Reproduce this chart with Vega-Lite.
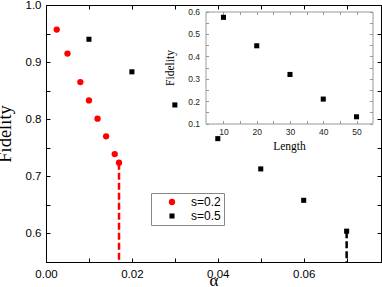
{
  "$schema": "https://vega.github.io/schema/vega-lite/v6.json",
  "width": 335,
  "height": 257,
  "autosize": "none",
  "padding": {"left": 46, "top": 5, "right": 1, "bottom": 25},
  "background": "white",
  "config": {
    "view": {"stroke": null},
    "axis": {
      "grid": false,
      "labelFont": "Liberation Sans",
      "labelFontSize": 11.5,
      "labelColor": "#000",
      "labelFlush": false,
      "labelOverlap": false,
      "titleFont": "Liberation Serif",
      "titleFontWeight": "normal",
      "titleColor": "#000",
      "domainColor": "#000",
      "tickColor": "#000",
      "tickSize": -4,
      "labelPadding": 10
    },
    "legend": {"labelFont": "Liberation Sans", "labelFontSize": 12, "labelColor": "#000"}
  },
  "datasets": {
    "main": [
      {"alpha": 0.0025, "F": 0.957, "s": "s=0.2"},
      {"alpha": 0.005, "F": 0.915, "s": "s=0.2"},
      {"alpha": 0.008, "F": 0.865, "s": "s=0.2"},
      {"alpha": 0.010, "F": 0.833, "s": "s=0.2"},
      {"alpha": 0.012, "F": 0.801, "s": "s=0.2"},
      {"alpha": 0.014, "F": 0.770, "s": "s=0.2"},
      {"alpha": 0.016, "F": 0.739, "s": "s=0.2"},
      {"alpha": 0.017, "F": 0.724, "s": "s=0.2"},
      {"alpha": 0.01, "F": 0.940, "s": "s=0.5"},
      {"alpha": 0.02, "F": 0.883, "s": "s=0.5"},
      {"alpha": 0.03, "F": 0.825, "s": "s=0.5"},
      {"alpha": 0.04, "F": 0.766, "s": "s=0.5"},
      {"alpha": 0.05, "F": 0.713, "s": "s=0.5"},
      {"alpha": 0.06, "F": 0.658, "s": "s=0.5"},
      {"alpha": 0.07, "F": 0.604, "s": "s=0.5"}
    ],
    "lines": [
      {"alpha": 0.017, "top": 0.724, "bottom": 0.55, "s": "s=0.2"},
      {"alpha": 0.07, "top": 0.604, "bottom": 0.55, "s": "s=0.5"}
    ],
    "inset": [
      {"Length": 10, "F": 0.574},
      {"Length": 20, "F": 0.447},
      {"Length": 30, "F": 0.319},
      {"Length": 40, "F": 0.209},
      {"Length": 50, "F": 0.130}
    ]
  },
  "layer": [
    {
      "layer": [
        {
          "data": {"name": "main"},
          "mark": {"type": "point", "filled": true, "opacity": 1, "size": 40},
          "encoding": {
            "x": {
              "field": "alpha", "type": "quantitative",
              "scale": {"domain": [0, 0.078], "nice": false, "zero": false},
              "axis": {
                "orient": "bottom", "title": "α", "titleFontSize": 17, "titlePadding": -7,
                "labelOverlap": false, "labelFlush": false, "tickCount": 30,
                "values": [0, 0.01, 0.02, 0.03, 0.04, 0.05, 0.06, 0.07],
                "labelExpr": "abs(datum.value*50 - round(datum.value*50)) < 0.001 ? format(datum.value, '.2f') : ''"
              }
            },
            "y": {
              "field": "F", "type": "quantitative",
              "scale": {"domain": [0.55, 1.0], "nice": false, "zero": false},
              "axis": {
                "orient": "left", "title": "Fidelity", "titleFontSize": 18.5, "titlePadding": 11,
                "labelPadding": 9, "labelOverlap": false, "labelFlush": false, "tickCount": 30,
                "values": [0.55, 0.6, 0.65, 0.7, 0.75, 0.8, 0.85, 0.9, 0.95, 1.0],
                "labelExpr": "datum.value < 0.57 ? '' : (abs(datum.value*10 - round(datum.value*10)) < 0.001 ? format(datum.value, '.1f') : '')"
              }
            },
            "color": {
              "field": "s", "type": "nominal",
              "scale": {"domain": ["s=0.2", "s=0.5"], "range": ["#ff0000", "#000000"]},
              "legend": {
                "title": null, "orient": "none", "legendX": 105, "legendY": 188,
                "strokeColor": "#888", "padding": 3, "symbolSize": 40,
                "symbolOffset": 12, "labelOffset": 13, "rowPadding": 2
              }
            },
            "shape": {
              "field": "s", "type": "nominal",
              "scale": {"domain": ["s=0.2", "s=0.5"], "range": ["circle", "M-0.8,-0.8H0.8V0.8H-0.8Z"]},
              "legend": {
                "title": null, "orient": "none", "legendX": 105, "legendY": 188,
                "strokeColor": "#888", "padding": 3, "symbolSize": 40,
                "symbolOffset": 12, "labelOffset": 13, "rowPadding": 2
              }
            }
          }
        },
        {
          "data": {"name": "lines"},
          "transform": [{"filter": "datum.s == 's=0.2'"}],
          "mark": {"type": "rule", "color": "#ff0000", "strokeWidth": 2.5, "strokeDash": [7, 3]},
          "encoding": {
            "x": {"field": "alpha", "type": "quantitative"},
            "y": {"field": "top", "type": "quantitative"},
            "y2": {"field": "bottom"}
          }
        },
        {
          "data": {"name": "lines"},
          "transform": [{"filter": "datum.s == 's=0.5'"}],
          "mark": {"type": "rule", "color": "#000000", "strokeWidth": 2.5, "strokeDash": [7, 3]},
          "encoding": {
            "x": {"field": "alpha", "type": "quantitative"},
            "y": {"field": "top", "type": "quantitative"},
            "y2": {"field": "bottom"}
          }
        }
      ]
    },
    {
      "data": {"name": "main"},
      "mark": {"type": "point", "opacity": 0},
      "encoding": {
        "x": {
          "field": "alpha", "type": "quantitative",
          "scale": {"domain": [0, 0.078], "nice": false, "zero": false},
          "axis": {"orient": "top", "title": null, "labels": false, "tickCount": 30, "values": [0, 0.01, 0.02, 0.03, 0.04, 0.05, 0.06, 0.07]}
        },
        "y": {
          "field": "F", "type": "quantitative",
          "scale": {"domain": [0.55, 1.0], "nice": false, "zero": false},
          "axis": {"orient": "right", "title": null, "labels": false, "tickCount": 30, "values": [0.55, 0.6, 0.65, 0.7, 0.75, 0.8, 0.85, 0.9, 0.95, 1.0]}
        }
      }
    },
    {
      "data": {"name": "inset"},
      "mark": {"type": "point", "filled": true, "opacity": 1, "size": 40, "shape": "M-0.8,-0.8H0.8V0.8H-0.8Z", "color": "#000"},
      "encoding": {
        "x": {
          "field": "Length", "type": "quantitative",
          "scale": {"domain": [4.6, 54.8], "range": [159.5, 326.5], "nice": false, "zero": false},
          "axis": {
            "orient": "bottom", "offset": -138.5, "title": "Length", "titleFontSize": 11.5, "titlePadding": 4,
            "domainColor": "#999", "tickColor": "#999", "tickSize": -3, "labelFontSize": 8.5, "labelPadding": 7,
            "labelColor": "#222", "labelOverlap": false, "labelFlush": false, "tickCount": 30,
            "values": [10, 15, 20, 25, 30, 35, 40, 45, 50],
            "labelExpr": "datum.value % 10 == 0 ? datum.label : ''"
          }
        },
        "y": {
          "field": "F", "type": "quantitative",
          "scale": {"domain": [0.1, 0.6], "range": [118.5, 6.5], "nice": false, "zero": false},
          "axis": {
            "orient": "left", "offset": -159.5, "title": "Fidelity", "titleFontSize": 11.5, "titlePadding": 12,
            "domainColor": "#999", "tickColor": "#999", "tickSize": -3, "labelFontSize": 8.5, "labelPadding": 9,
            "labelColor": "#222", "labelOverlap": false, "labelFlush": false, "tickCount": 30,
            "values": [0.1, 0.15, 0.2, 0.25, 0.3, 0.35, 0.4, 0.45, 0.5, 0.55, 0.6],
            "labelExpr": "abs(datum.value*10 - round(datum.value*10)) < 0.001 ? format(datum.value, '.1f') : ''"
          }
        }
      }
    },
    {
      "data": {"name": "inset"},
      "mark": {"type": "point", "opacity": 0},
      "encoding": {
        "x": {
          "field": "Length", "type": "quantitative",
          "scale": {"domain": [4.6, 54.8], "range": [159.5, 326.5], "nice": false, "zero": false},
          "axis": {
            "orient": "top", "offset": -6.5, "title": null, "labels": false,
            "domainColor": "#999", "tickColor": "#999", "tickSize": -3, "tickCount": 30,
            "values": [10, 15, 20, 25, 30, 35, 40, 45, 50]
          }
        },
        "y": {
          "field": "F", "type": "quantitative",
          "scale": {"domain": [0.1, 0.6], "range": [118.5, 6.5], "nice": false, "zero": false},
          "axis": {
            "orient": "right", "offset": -8.5, "title": null, "labels": false,
            "domainColor": "#999", "tickColor": "#999", "tickSize": -3, "tickCount": 30,
            "values": [0.1, 0.15, 0.2, 0.25, 0.3, 0.35, 0.4, 0.45, 0.5, 0.55, 0.6]
          }
        }
      }
    }
  ],
  "resolve": {"scale": {"x": "independent", "y": "independent"}}
}
